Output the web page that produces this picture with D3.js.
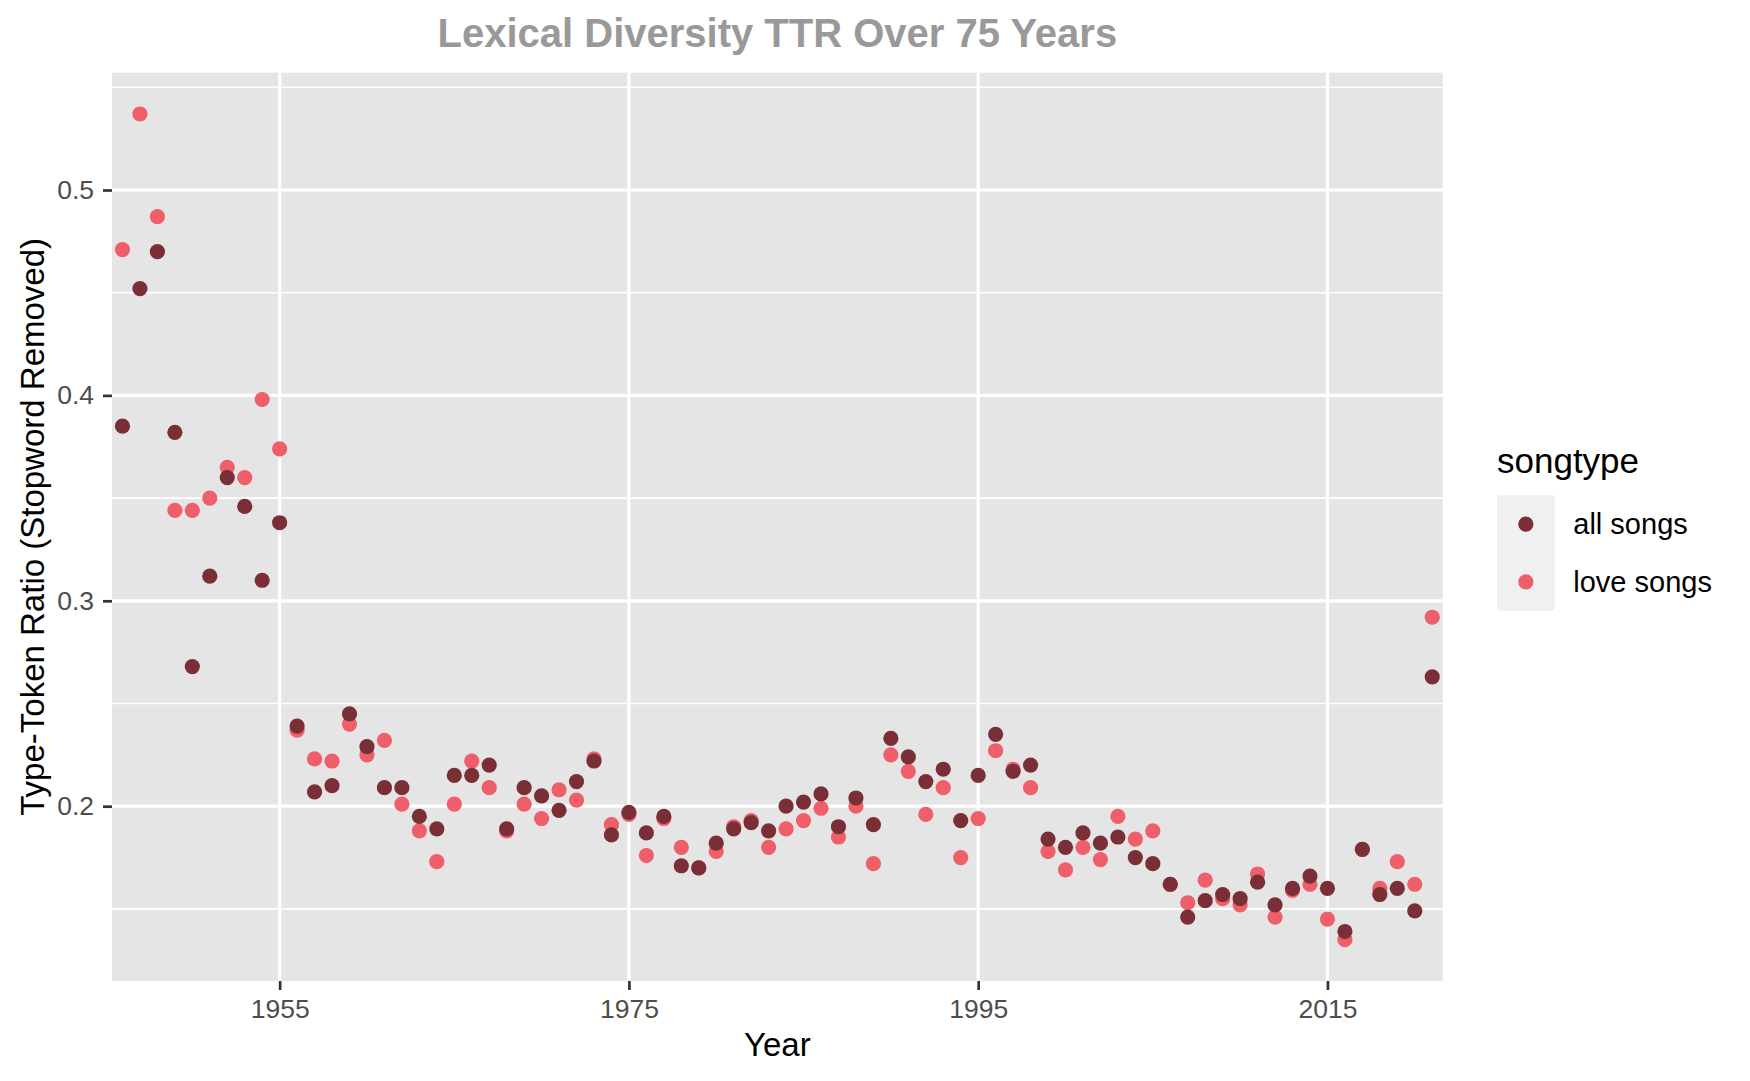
<!DOCTYPE html>
<html>
<head>
	<meta charset="utf-8">
	<title>Lexical Diversity TTR Over 75 Years</title>
	<script type="text/javascript" src="https://cdn.jsdelivr.net/npm/d3@7/dist/d3.min.js"></script>
	<style type="text/css">
		body { margin: 0; background: #fff; }
		svg { display: block; font-family: "Liberation Sans", Arial, Helvetica, sans-serif; }
	</style>
</head>
<body>
	<svg id="chart1" width="1750" height="1081"></svg>

	<script type="text/javascript">
		// one category per year, x is a discrete scale
		var years = [1946, 1947, 1948, 1949, 1950, 1951, 1952, 1953, 1954, 1955,
			1956, 1957, 1958, 1959, 1960, 1961, 1962, 1963, 1964, 1965,
			1966, 1967, 1968, 1969, 1970, 1971, 1972, 1973, 1974, 1975,
			1976, 1977, 1978, 1979, 1980, 1981, 1982, 1983, 1984, 1985,
			1986, 1987, 1988, 1989, 1990, 1991, 1992, 1993, 1994, 1995,
			1996, 1997, 1998, 1999, 2000, 2001, 2002, 2003, 2004, 2005,
			2006, 2007, 2008, 2009, 2010, 2011, 2012, 2013, 2014, 2015,
			2016, 2017, 2018, 2019, 2020, 2021];

		var allSongs = [0.385, 0.452, 0.470, 0.382, 0.268, 0.312, 0.360, 0.346, 0.310, 0.338,
			0.239, 0.207, 0.210, 0.245, 0.229, 0.209, 0.209, 0.195, 0.189, 0.215,
			0.215, 0.220, 0.189, 0.209, 0.205, 0.198, 0.212, 0.222, 0.186, 0.197,
			0.187, 0.195, 0.171, 0.170, 0.182, 0.189, 0.192, 0.188, 0.200, 0.202,
			0.206, 0.190, 0.204, 0.191, 0.233, 0.224, 0.212, 0.218, 0.193, 0.215,
			0.235, 0.217, 0.220, 0.184, 0.180, 0.187, 0.182, 0.185, 0.175, 0.172,
			0.162, 0.146, 0.154, 0.157, 0.155, 0.163, 0.152, 0.160, 0.166, 0.160,
			0.139, 0.179, 0.157, 0.160, 0.149, 0.263];

		var loveSongs = [0.471, 0.537, 0.487, 0.344, 0.344, 0.350, 0.365, 0.360, 0.398, 0.374,
			0.237, 0.223, 0.222, 0.240, 0.225, 0.232, 0.201, 0.188, 0.173, 0.201,
			0.222, 0.209, 0.188, 0.201, 0.194, 0.208, 0.203, 0.223, 0.191, 0.196,
			0.176, 0.194, 0.180, 0.170, 0.178, 0.190, 0.193, 0.180, 0.189, 0.193,
			0.199, 0.185, 0.200, 0.172, 0.225, 0.217, 0.196, 0.209, 0.175, 0.194,
			0.227, 0.218, 0.209, 0.178, 0.169, 0.180, 0.174, 0.195, 0.184, 0.188,
			0.162, 0.153, 0.164, 0.155, 0.152, 0.167, 0.146, 0.159, 0.162, 0.145,
			0.135, 0.179, 0.160, 0.173, 0.162, 0.292];

		var xTicks = [1955, 1975, 1995, 2015];
		var yTicks = [0.2, 0.3, 0.4, 0.5];
		var yMinor = [0.15, 0.25, 0.35, 0.45, 0.55];

		var series = [
			{key: 'love songs', values: loveSongs, color: '#EF5F6A'},
			{key: 'all songs', values: allSongs, color: '#7A2F37'}
		];
		var legendOrder = ['all songs', 'love songs'];

		var svg = d3.select('#chart1');
		var panel = {left: 112, right: 1442.7, top: 72.7, bottom: 981};

		// ggplot style: discrete x expands 0.6 of a step, y expands 5%
		var x = d3.scalePoint()
			.domain(years)
			.range([panel.left, panel.right])
			.padding(0.6);

		var all = allSongs.concat(loveSongs);
		var lo = d3.min(all), hi = d3.max(all), pad = (hi - lo) * 0.05;
		var y = d3.scaleLinear()
			.domain([lo - pad, hi + pad])
			.range([panel.bottom, panel.top]);

		svg.append('rect')
			.attr('x', panel.left).attr('y', panel.top)
			.attr('width', panel.right - panel.left)
			.attr('height', panel.bottom - panel.top)
			.attr('fill', '#E5E5E5');

		var grid = svg.append('g').attr('stroke', '#fff');
		grid.selectAll('.minor').data(yMinor.filter(function(v) {
				return y(v) >= panel.top && y(v) <= panel.bottom;
			}))
			.enter().append('line')
			.attr('x1', panel.left).attr('x2', panel.right)
			.attr('y1', function(d) { return y(d); })
			.attr('y2', function(d) { return y(d); })
			.attr('stroke-width', 1.6);
		grid.selectAll('.majorY').data(yTicks)
			.enter().append('line')
			.attr('x1', panel.left).attr('x2', panel.right)
			.attr('y1', function(d) { return y(d); })
			.attr('y2', function(d) { return y(d); })
			.attr('stroke-width', 3.2);
		grid.selectAll('.majorX').data(xTicks)
			.enter().append('line')
			.attr('y1', panel.top).attr('y2', panel.bottom)
			.attr('x1', function(d) { return x(d); })
			.attr('x2', function(d) { return x(d); })
			.attr('stroke-width', 3.2);

		// points, love songs underneath
		series.forEach(function(s) {
			svg.append('g').selectAll('circle')
				.data(s.values)
				.enter().append('circle')
				.attr('cx', function(d, i) { return x(years[i]); })
				.attr('cy', function(d) { return y(d); })
				.attr('r', 7.6)
				.attr('fill', s.color);
		});

		// axes
		var xAxis = svg.append('g')
			.attr('transform', 'translate(0,' + panel.bottom + ')')
			.call(d3.axisBottom(x).tickValues(xTicks).tickSize(9).tickPadding(9));
		var yAxis = svg.append('g')
			.attr('transform', 'translate(' + panel.left + ',0)')
			.call(d3.axisLeft(y).tickValues(yTicks).tickSize(9).tickPadding(9)
				.tickFormat(d3.format('.1f')));

		[xAxis, yAxis].forEach(function(a) {
			a.select('.domain').remove();
			a.selectAll('line').attr('stroke', '#333').attr('stroke-width', 2.7);
			a.selectAll('text')
				.attr('fill', '#4D4D4D')
				.style('font-size', '26.5px')
				.style('font-family', '"Liberation Sans", Arial, sans-serif');
		});

		// titles
		svg.append('text')
			.attr('x', (panel.left + panel.right) / 2)
			.attr('y', 47)
			.attr('text-anchor', 'middle')
			.attr('fill', '#999999')
			.style('font-size', '40px')
			.style('font-weight', 'bold')
			.text('Lexical Diversity TTR Over 75 Years');

		svg.append('text')
			.attr('x', (panel.left + panel.right) / 2)
			.attr('y', 1056)
			.attr('text-anchor', 'middle')
			.style('font-size', '33px')
			.text('Year');

		svg.append('text')
			.attr('transform', 'translate(43.5,' + (panel.top + panel.bottom) / 2 + ') rotate(-90)')
			.attr('text-anchor', 'middle')
			.style('font-size', '33px')
			.text('Type-Token Ratio (Stopword Removed)');

		// legend
		var legend = svg.append('g').attr('transform', 'translate(1497,0)');
		legend.append('text')
			.attr('x', 0).attr('y', 473)
			.style('font-size', '35px')
			.text('songtype');

		var keySize = 57.7, keyTop = 495.3;
		legendOrder.forEach(function(k, i) {
			var s = series.filter(function(d) { return d.key === k; })[0];
			var cy = keyTop + keySize * i + keySize / 2;
			legend.append('rect')
				.attr('x', 0).attr('y', keyTop + keySize * i)
				.attr('width', keySize).attr('height', keySize)
				.attr('fill', '#F0F0F0');
			legend.append('circle')
				.attr('cx', keySize / 2).attr('cy', cy)
				.attr('r', 7.6)
				.attr('fill', s.color);
			legend.append('text')
				.attr('x', 76.3).attr('y', cy + 10.2)
				.style('font-size', '29px')
				.text(k);
		});
	</script>
</body>
</html>
